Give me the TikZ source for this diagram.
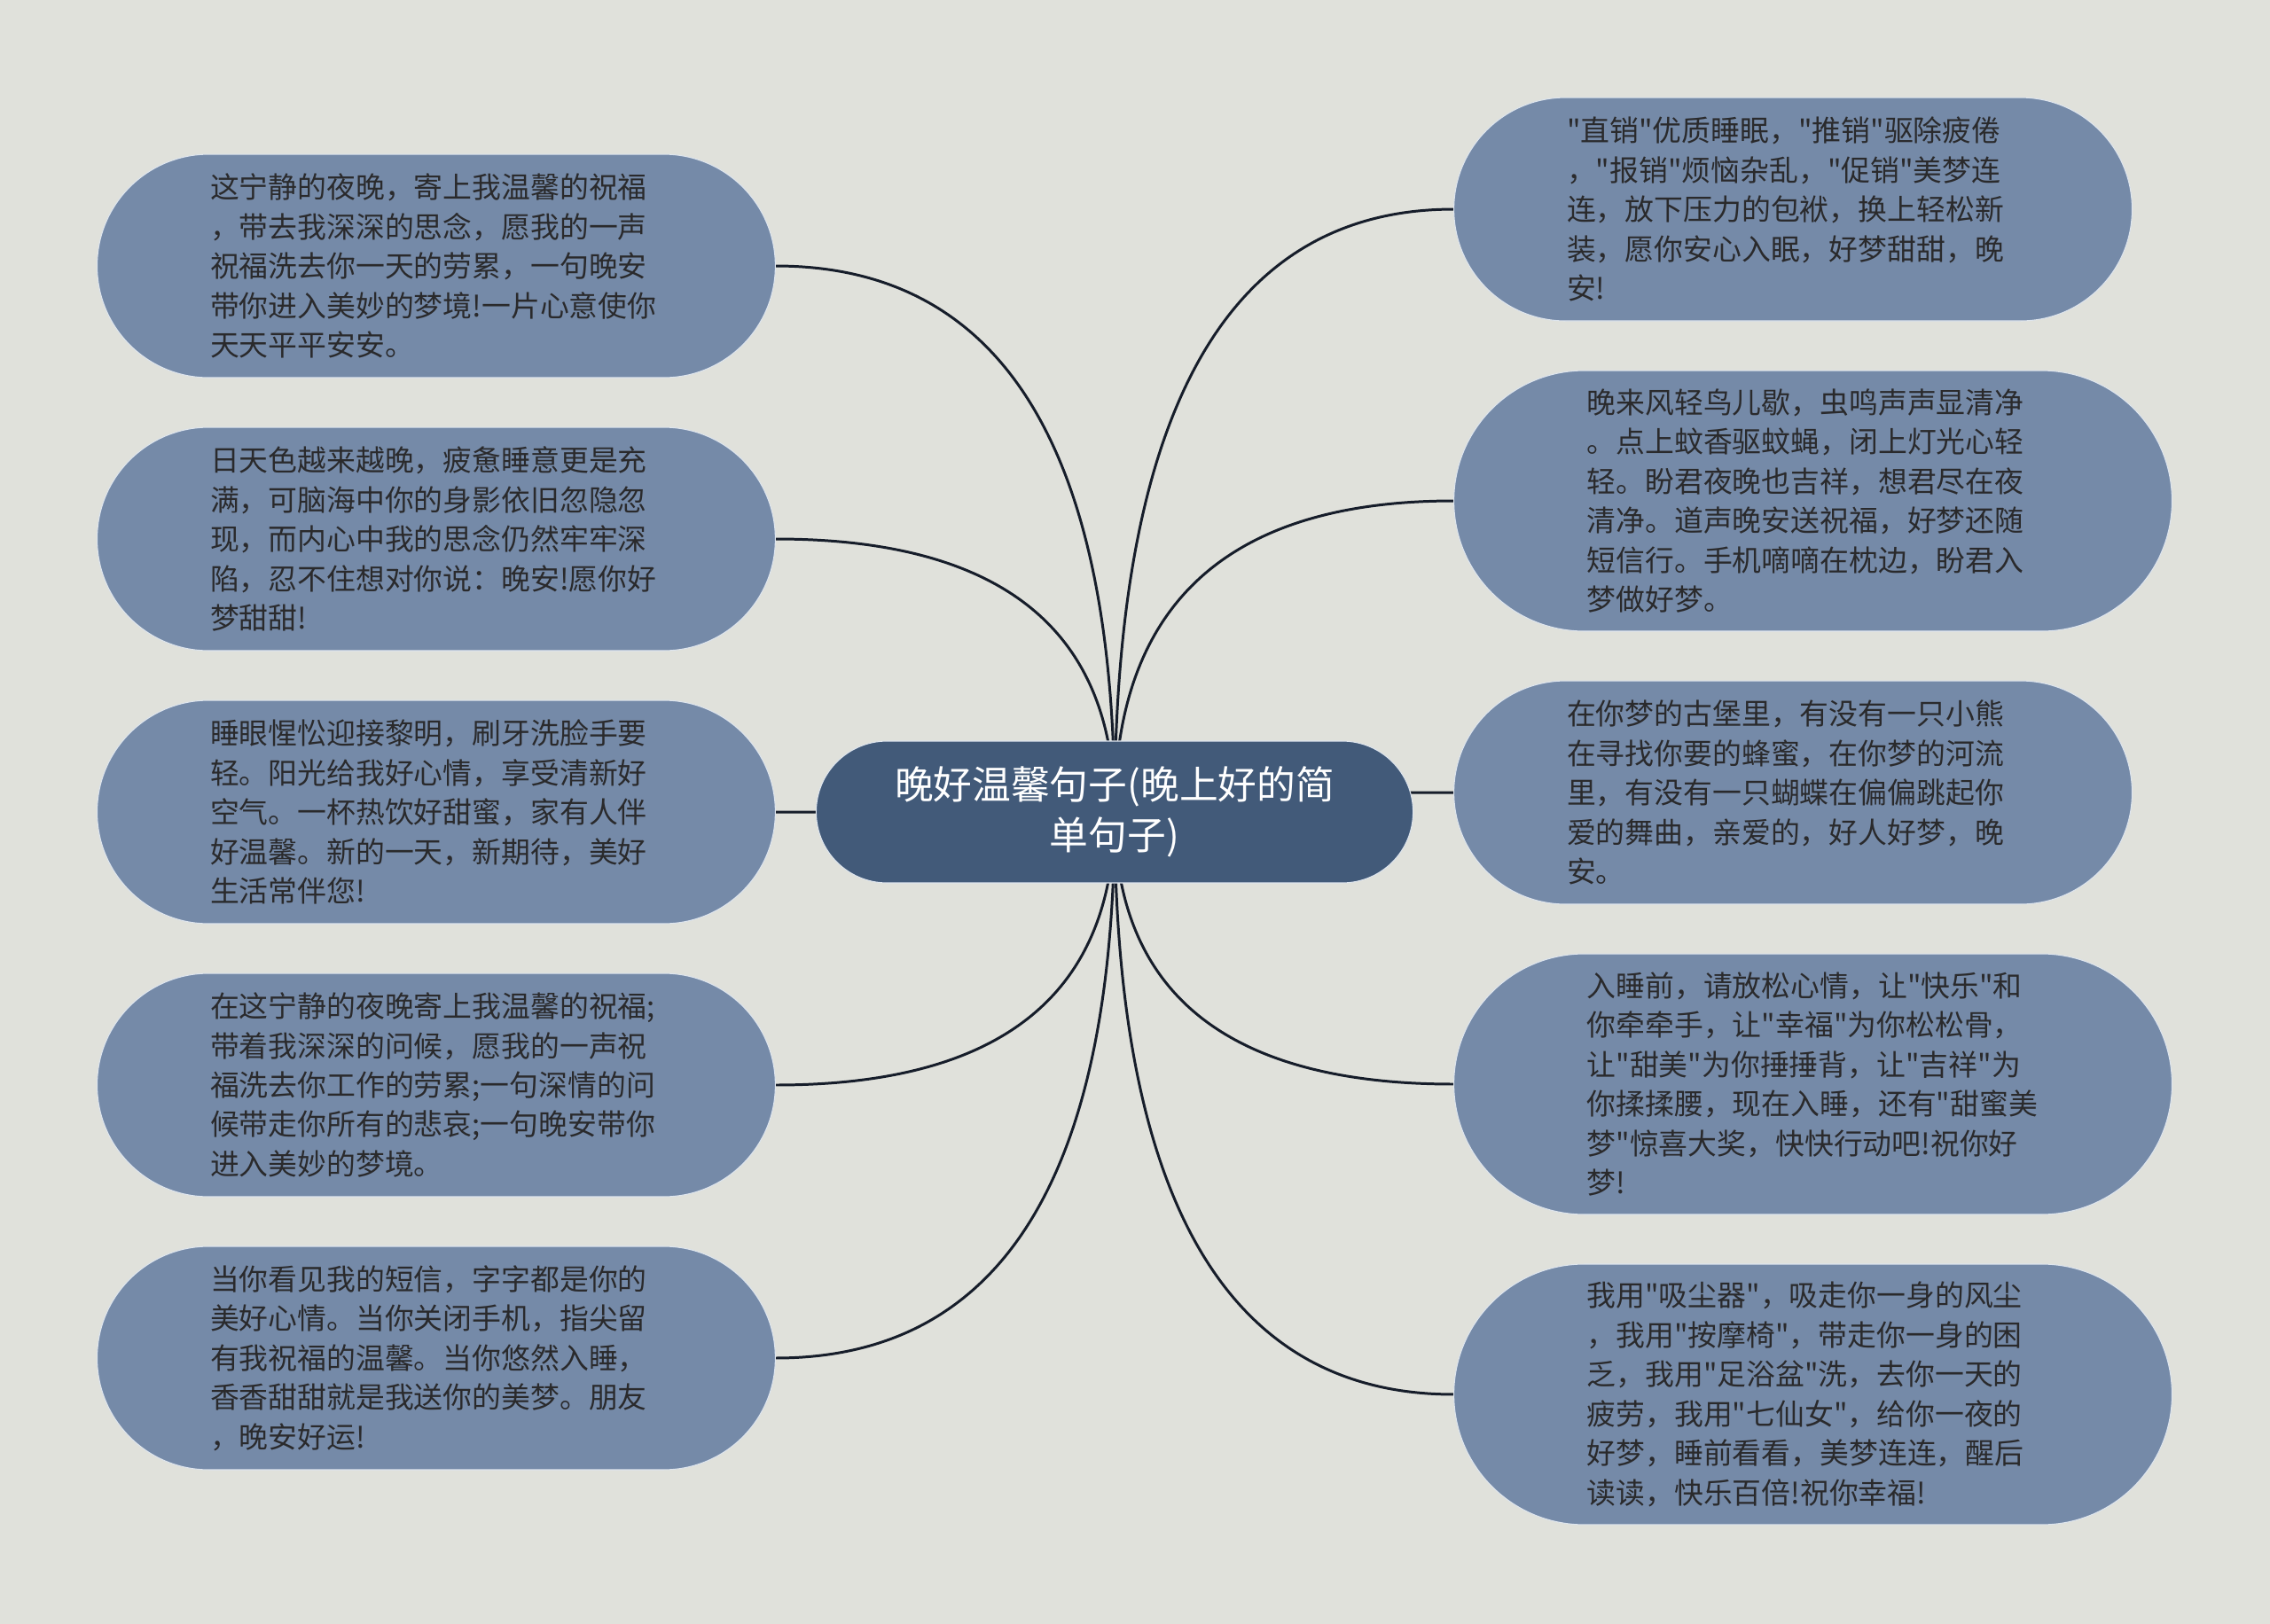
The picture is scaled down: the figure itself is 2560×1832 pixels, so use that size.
\documentclass[tikz,border=0pt]{standalone}
\usepackage{fontspec}
\newfontfamily\cjk{Noto Sans CJK SC}
\usetikzlibrary{positioning}
\usetikzlibrary{shapes.misc}
\usetikzlibrary{backgrounds}
\usetikzlibrary{calc}

\definecolor{paper}{RGB}{224,225,219}
\definecolor{leafblue}{RGB}{117,138,168}
\definecolor{hubblue}{RGB}{66,90,121}
\definecolor{ink}{RGB}{42,42,44}
\definecolor{wire}{RGB}{22,29,42}
\definecolor{rim}{RGB}{222,229,238}

\begin{document}
\begin{tikzpicture}
		[x=0.02cm, y=-0.02cm,
		leaf/.style={rounded rectangle, fill=leafblue, draw=rim, line width=0.6pt, inner xsep=0pt, minimum width=15.3cm, minimum height=5.04cm, text width=10.2cm, align=left, text=ink, font=\cjk\fontsize{18.7}{25.3}\selectfont},
		tall/.style={leaf, minimum width=16.2cm, minimum height=5.88cm},
		hub/.style={rounded rectangle, fill=hubblue, draw=rim, line width=0.6pt, minimum width=13.7cm, minimum height=3.2cm, align=center, text=white, font=\cjk\fontsize{24.9}{32.4}\selectfont},
		link/.style={draw=wire, line width=1.7pt}]
		\node[hub] (main) at (1257,916) {晚好温馨句子(晚上好的简\\单句子)};

		% left side
		\node[leaf, left=0.9cm of main] (l3) {睡眼惺忪迎接黎明，刷牙洗脸手要\\轻。阳光给我好心情，享受清新好\\空气。一杯热饮好甜蜜，家有人伴\\好温馨。新的一天，新期待，美好\\生活常伴您!};
		\node[leaf, above=1.1cm of l3] (l2) {日天色越来越晚，疲惫睡意更是充\\满，可脑海中你的身影依旧忽隐忽\\现，而内心中我的思念仍然牢牢深\\陷，忍不住想对你说：晚安!愿你好\\梦甜甜!};
		\node[leaf, above=1.1cm of l2] (l1) {这宁静的夜晚，寄上我温馨的祝福\\，带去我深深的思念，愿我的一声\\祝福洗去你一天的劳累，一句晚安\\带你进入美妙的梦境!一片心意使你\\天天平平安安。};
		\node[leaf, below=1.1cm of l3] (l4) {在这宁静的夜晚寄上我温馨的祝福;\\带着我深深的问候，愿我的一声祝\\福洗去你工作的劳累;一句深情的问\\候带走你所有的悲哀;一句晚安带你\\进入美妙的梦境。};
		\node[leaf, below=1.1cm of l4] (l5) {当你看见我的短信，字字都是你的\\美好心情。当你关闭手机，指尖留\\有我祝福的温馨。当你悠然入睡，\\香香甜甜就是我送你的美梦。朋友\\，晚安好运!};

		% right side
		\node[leaf, right=0.9cm of main, yshift=0.44cm] (r3) {在你梦的古堡里，有没有一只小熊\\在寻找你要的蜂蜜，在你梦的河流\\里，有没有一只蝴蝶在偏偏跳起你\\爱的舞曲，亲爱的，好人好梦，晚\\安。};
		\node[tall, above=1.1cm of r3, xshift=0.45cm] (r2) {晚来风轻鸟儿歇，虫鸣声声显清净\\。点上蚊香驱蚊蝇，闭上灯光心轻\\轻。盼君夜晚也吉祥，想君尽在夜\\清净。道声晚安送祝福，好梦还随\\短信行。手机嘀嘀在枕边，盼君入\\梦做好梦。};
		\node[leaf, above=1.1cm of r2, xshift=-0.45cm] (r1) {"直销"优质睡眠，"推销"驱除疲倦\\，"报销"烦恼杂乱，"促销"美梦连\\连，放下压力的包袱，换上轻松新\\装，愿你安心入眠，好梦甜甜，晚\\安!};
		\node[tall, below=1.1cm of r3, xshift=0.45cm] (r4) {入睡前，请放松心情，让"快乐"和\\你牵牵手，让"幸福"为你松松骨，\\让"甜美"为你捶捶背，让"吉祥"为\\你揉揉腰，现在入睡，还有"甜蜜美\\梦"惊喜大奖，快快行动吧!祝你好\\梦!};
		\node[tall, below=1.1cm of r4] (r5) {我用"吸尘器"，吸走你一身的风尘\\，我用"按摩椅"，带走你一身的困\\乏，我用"足浴盆"洗，去你一天的\\疲劳，我用"七仙女"，给你一夜的\\好梦，睡前看看，美梦连连，醒后\\读读，快乐百倍!祝你幸福!};

		\begin{pgfonlayer}{background}
			\fill[paper] (0,0) rectangle (2560,1832);
			\foreach \n in {l1,l2,l3,l4,l5} {
				\coordinate (k) at (main.center |- \n.east);
				\draw[link] (main.center) .. controls ($(main.center)!0.667!(k)$) and ($(\n.east)!0.667!(k)$) .. (\n.east);
			}
			\foreach \n in {r1,r2,r3,r4,r5} {
				\coordinate (k) at (main.center |- \n.west);
				\draw[link] (main.center) .. controls ($(main.center)!0.667!(k)$) and ($(\n.west)!0.667!(k)$) .. (\n.west);
			}
		\end{pgfonlayer}
	\end{tikzpicture}
\end{document}
